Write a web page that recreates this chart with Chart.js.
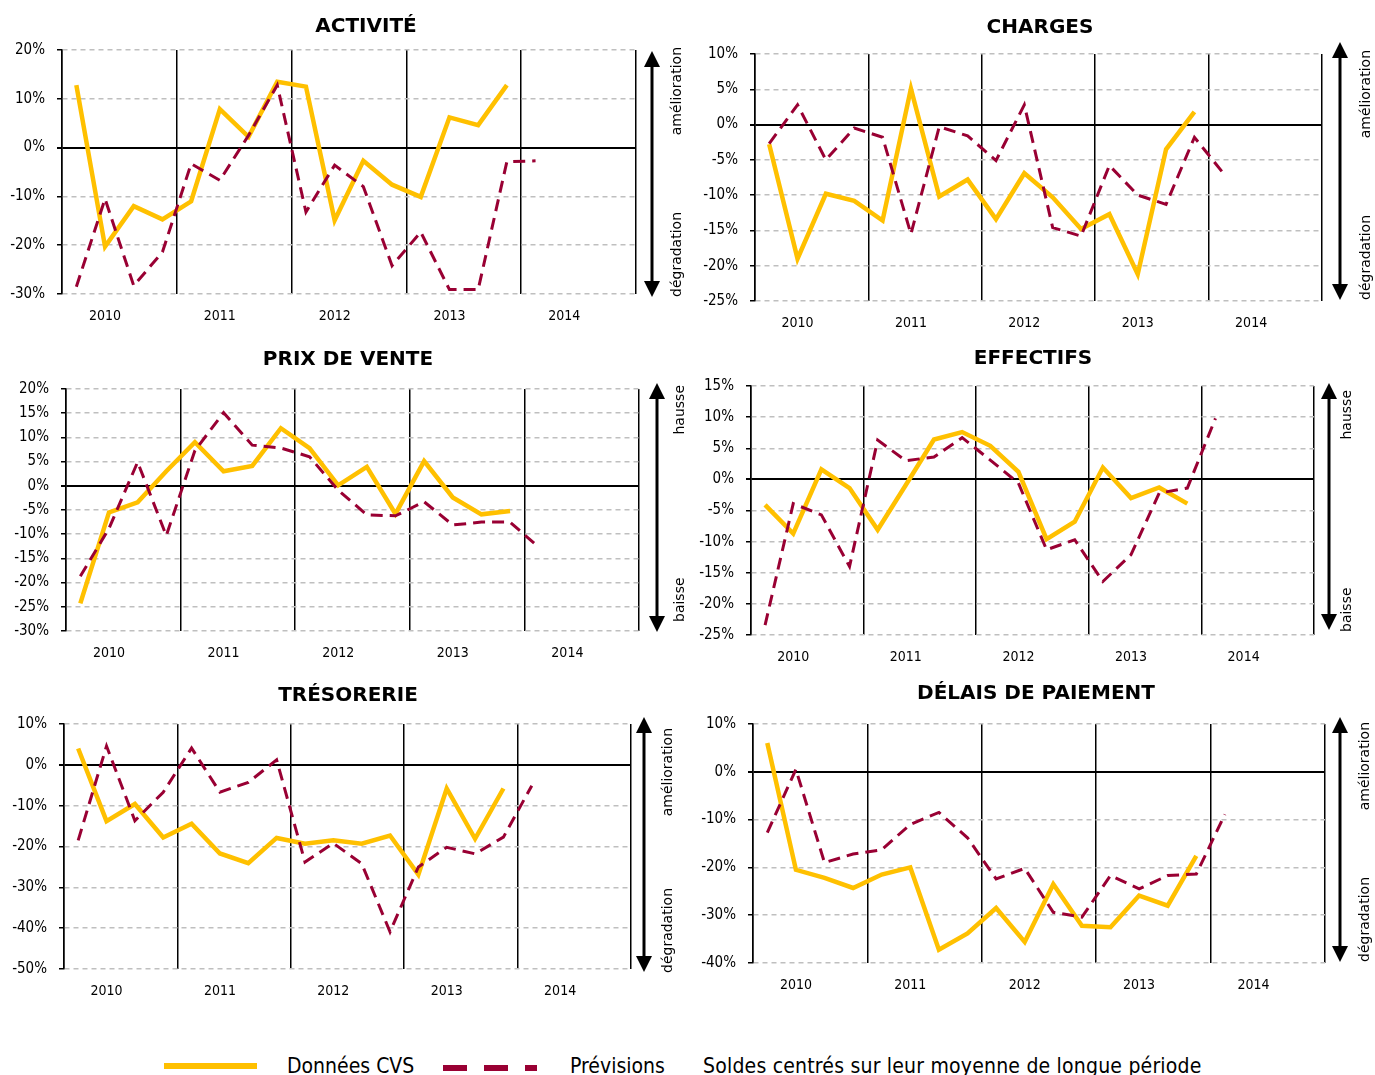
<!DOCTYPE html>
<html>
<head>
<meta charset="utf-8">
<script src="https://cdn.jsdelivr.net/npm/chart.js@4.4.0/dist/chart.umd.min.js"></script>
<style>
body{margin:0;background:#fff;width:1375px;height:1075px;overflow:hidden;position:relative;font-family:'DejaVu Sans Condensed','DejaVu Sans',sans-serif;}
canvas.panel{position:absolute;}
.title{position:absolute;transform:translateX(-50%);font-family:'DejaVu Sans',sans-serif;font-weight:bold;font-size:20px;line-height:20px;white-space:nowrap;color:#000;}
.leg{position:absolute;}
.legtxt{position:absolute;font-size:21px;line-height:22px;white-space:nowrap;color:#000;}
</style>
</head>
<body>
<div id="root"></div>
<div class="leg" style="left:164px;top:1063px;width:93px;height:6px;background:#FFC000"></div>
<div class="legtxt" style="left:287px;top:1055px">Données CVS</div>
<div class="leg" style="left:443px;top:1065px;width:94px;height:6px;background:repeating-linear-gradient(90deg,#990033 0 24px,transparent 24px 41px)"></div>
<div class="legtxt" style="left:570px;top:1055px">Prévisions</div>
<div class="legtxt" style="left:703px;top:1055px;letter-spacing:0.2px">Soldes centrés sur leur moyenne de longue période</div>

<script>
// trimestres 2010T1 .. 2014T4
var quarters = ['2010T1','2010T2','2010T3','2010T4','2011T1','2011T2','2011T3','2011T4',
                '2012T1','2012T2','2012T3','2012T4','2013T1','2013T2','2013T3','2013T4',
                '2014T1','2014T2','2014T3','2014T4'];
var years = ['2010','2011','2012','2013','2014'];

// Activité
var activiteCvs  = [12.8,-20.3,-12,-14.7,-11,7.9,2.2,13.5,12.5,-14.9,-2.7,-7.6,-10.1,6.2,4.6,12.8];
var activitePrev = [-28.5,-10.5,-28.3,-21.4,-3.3,-6.7,2.5,12.8,-13.2,-3.6,-8,-24.2,-17.3,-29.1,-29.1,-2.9,-2.7];
// Charges
var chargesCvs  = [-2.8,-19,-9.8,-10.8,-13.6,5.1,-10.2,-7.8,-13.4,-6.9,-10.3,-14.8,-12.7,-21.2,-3.5,1.8];
var chargesPrev = [-2.7,2.8,-5,-0.5,-1.8,-15.5,-0.3,-1.6,-5.1,2.8,-14.6,-15.8,-5.8,-10,-11.3,-1.8,-6.8];
// Prix de vente
var prixCvs  = [-24.3,-5.5,-3.4,3,9,3,4.1,11.9,7.8,0.1,3.9,-5.8,5.1,-2.4,-5.9,-5.2];
var prixPrev = [-18.7,-8.8,4.9,-10.3,7.3,15.1,8.4,7.8,6,-0.9,-6,-6.2,-3.3,-8.1,-7.5,-7.5,-12.7];
// Effectifs
var effectifsCvs  = [-4.1,-8.7,1.6,-1.4,-8.1,-0.9,6.4,7.6,5.4,1.2,-9.6,-6.8,1.9,-3,-1.3,-3.9];
var effectifsPrev = [-23.4,-3.9,-5.7,-14,6.3,3,3.6,6.7,3.1,-0.6,-11.3,-9.7,-16.4,-12.1,-2.2,-1.4,9.8];
// Trésorerie
var tresoCvs  = [4,-13.8,-9.6,-17.8,-14.4,-21.7,-24.1,-17.9,-19.3,-18.5,-19.3,-17.3,-26.9,-5.8,-18.1,-5.8];
var tresoPrev = [-18.5,4.6,-13.7,-6.7,4.1,-6.7,-4.3,1.2,-23.8,-19.2,-24.2,-40.9,-25,-20.2,-21.8,-17.7,-5.1];
// Délais de paiement
var delaisCvs  = [6,-20.5,-22.2,-24.3,-21.5,-20,-37.2,-33.8,-28.5,-35.6,-23.5,-32.2,-32.5,-25.9,-28,-17.6];
var delaisPrev = [-12.7,0.5,-19,-17.2,-16.3,-11,-8.5,-13.8,-22.4,-20.2,-29.4,-30.4,-21.7,-24.5,-21.7,-21.4,-8.9];

var YELLOW = '#FFC000', CRIMSON = '#990033';
var yW = 60, xH = 36, padTop = 10, topOff = 20, padRight = 62;

var panels = [
  {title:'ACTIVITÉ', cvs:activiteCvs, prev:activitePrev, min:-30, max:20, step:10,
   L:62, R:636, T:49, B:294, tx:366, ty:25, ax:652, txtX:677, aTop:51, aBot:297, upEnd:47, downStart:297, up:'amélioration', down:'dégradation'},
  {title:'CHARGES', cvs:chargesCvs, prev:chargesPrev, min:-25, max:10, step:5,
   L:755, R:1322, T:53, B:301, tx:1040, ty:26, ax:1340, txtX:1366, aTop:42, aBot:300, upEnd:50, downStart:300, up:'amélioration', down:'dégradation'},
  {title:'PRIX DE VENTE', cvs:prixCvs, prev:prixPrev, min:-30, max:20, step:5,
   L:66, R:639, T:388, B:631, tx:348, ty:358, ax:657, txtX:680, aTop:383, aBot:632, upEnd:385, downStart:622, up:'hausse', down:'baisse'},
  {title:'EFFECTIFS', cvs:effectifsCvs, prev:effectifsPrev, min:-25, max:15, step:5,
   L:751, R:1314, T:385, B:635, tx:1033, ty:357, ax:1329, txtX:1347, aTop:383, aBot:630, upEnd:390, downStart:632, up:'hausse', down:'baisse'},
  {title:'TRÉSORERIE', cvs:tresoCvs, prev:tresoPrev, min:-50, max:10, step:10,
   L:64, R:631, T:723, B:969, tx:348, ty:694, ax:644, txtX:668, aTop:717, aBot:972, upEnd:728, downStart:973, up:'amélioration', down:'dégradation'},
  {title:'DÉLAIS DE PAIEMENT', cvs:delaisCvs, prev:delaisPrev, min:-40, max:10, step:10,
   L:753, R:1325, T:723, B:963, tx:1036, ty:692, ax:1340, txtX:1365, aTop:717, aBot:962, upEnd:722, downStart:962, up:'amélioration', down:'dégradation'}
];

Chart.defaults.font.family = "'DejaVu Sans Condensed','DejaVu Sans',sans-serif";
Chart.defaults.color = '#000';

function toPoints(arr) {
  return arr.map(function(v, i){ return {x: i + 0.5, y: v}; });
}

// double arrow + rotated labels on the right of the plot
var sidePlugin = {
  id: 'side',
  afterDraw: function(chart) {
    var p = chart.options.plugins.side;
    var ctx = chart.ctx;
    var x = p.ax - p.left, top = p.aTop - p.top, bot = p.aBot - p.top;
    ctx.save();
    ctx.fillStyle = '#000';
    ctx.strokeStyle = '#000';
    ctx.lineWidth = 3;
    ctx.beginPath();
    ctx.moveTo(x, top + 12);
    ctx.lineTo(x, bot - 12);
    ctx.stroke();
    ctx.beginPath();
    ctx.moveTo(x, top); ctx.lineTo(x - 8, top + 16); ctx.lineTo(x + 8, top + 16); ctx.closePath();
    ctx.fill();
    ctx.beginPath();
    ctx.moveTo(x, bot); ctx.lineTo(x - 8, bot - 16); ctx.lineTo(x + 8, bot - 16); ctx.closePath();
    ctx.fill();
    ctx.font = "14px 'DejaVu Sans', sans-serif";
    ctx.textBaseline = 'middle';
    ctx.translate(p.txtX - p.left, 0);
    ctx.rotate(-Math.PI / 2);
    ctx.textAlign = 'right';
    ctx.fillText(p.up, -(p.upEnd - p.top), 0);
    ctx.textAlign = 'left';
    ctx.fillText(p.down, -(p.downStart - p.top), 0);
    ctx.restore();
  }
};

var root = document.getElementById('root');
panels.forEach(function(p) {
  var left = p.L - yW, top = p.T - topOff;
  var w = p.R + padRight - left, h = p.B + xH - top;

  var t = document.createElement('div');
  t.className = 'title';
  t.textContent = p.title;
  t.style.left = p.tx + 'px';
  t.style.top = (p.ty - 10) + 'px';
  document.body.appendChild(t);

  var c = document.createElement('canvas');
  c.className = 'panel';
  c.style.left = left + 'px';
  c.style.top = top + 'px';
  c.style.width = w + 'px';
  c.style.height = h + 'px';
  c.width = w; c.height = h;
  root.appendChild(c);

  new Chart(c, {
    type: 'line',
    data: {
      datasets: [{
        label: 'Données CVS',
        data: toPoints(p.cvs),
        borderColor: YELLOW,
        borderWidth: 4.5,
        pointRadius: 0,
        order: 2
      }, {
        label: 'Prévisions',
        data: toPoints(p.prev),
        borderColor: CRIMSON,
        borderWidth: 3,
        borderDash: [12, 7],
        borderCapStyle: 'butt',
        pointRadius: 0,
        order: 1
      }]
    },
    options: {
      responsive: false,
      animation: false,
      events: [],
      layout: {padding: {top: padTop, right: padRight, left: 0, bottom: 0}},
      plugins: {
        legend: {display: false},
        tooltip: {enabled: false},
        side: {left: left, top: top, ax: p.ax, txtX: p.txtX, aTop: p.aTop, aBot: p.aBot,
               upEnd: p.upEnd, downStart: p.downStart, up: p.up, down: p.down}
      },
      scales: {
        x: {
          type: 'linear',
          min: 0,
          max: quarters.length,
          afterFit: function(s){ s.height = xH; },
          afterBuildTicks: function(s){
            // year boundaries every 4 quarters, year label on the 2nd quarter
            var ticks = [];
            for (var k = 0; k <= years.length; k++) {
              ticks.push({value: k * 4});
              if (k < years.length) ticks.push({value: k * 4 + 1.5});
            }
            s.ticks = ticks;
          },
          ticks: {
            autoSkip: false,
            maxRotation: 0,
            padding: 14,
            font: {size: 14},
            callback: function(v){ return v % 4 === 1.5 ? years[(v - 1.5) / 4] : ''; }
          },
          grid: {
            drawTicks: false,
            lineWidth: 1.5,
            color: function(ctx){ return ctx.tick && ctx.tick.value % 4 === 0 ? '#000' : 'rgba(0,0,0,0)'; }
          },
          border: {display: false}
        },
        y: {
          min: p.min,
          max: p.max,
          afterFit: function(s){ s.width = yW; },
          ticks: {
            stepSize: p.step,
            padding: 12,
            font: {size: 15},
            callback: function(v){ return v + '%'; }
          },
          grid: {
            tickLength: 5,
            tickColor: '#000',
            lineWidth: function(ctx){ return ctx.tick && ctx.tick.value === 0 ? 2 : 1.5; },
            color: function(ctx){ return ctx.tick && ctx.tick.value === 0 ? '#000' : '#BFBFBF'; }
          },
          border: {
            color: '#000',
            width: 1.5,
            dash: function(ctx){ return ctx.tick && ctx.tick.value === 0 ? [] : [5, 4]; }
          }
        }
      }
    },
    plugins: [sidePlugin]
  });
});
</script>
</body>
</html>
